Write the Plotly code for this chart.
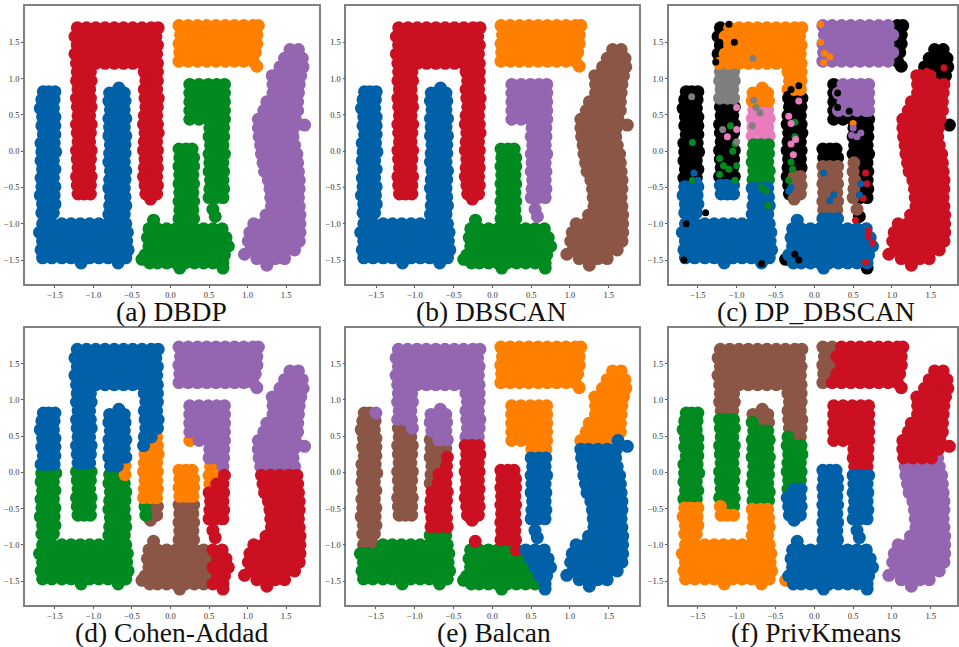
import plotly.graph_objects as go

# ---------- point rows: (y, [x, ...]) ----------
U_LEFT = [(.82,[-1.65,-1.58,-1.5]),(.71,[-1.67,-1.58,-1.51]),(.59,[-1.69,-1.6,-1.52]),(.47,[-1.66,-1.59,-1.5]),(.35,[-1.67,-1.58,-1.5]),
 (.23,[-1.65,-1.57,-1.5]),(.11,[-1.68,-1.6,-1.51]),(-.01,[-1.67,-1.59,-1.49]),(-.13,[-1.68,-1.6,-1.52]),(-.25,[-1.66,-1.58,-1.5]),
 (-.37,[-1.68,-1.6,-1.52]),(-.49,[-1.67,-1.59,-1.5]),(-.61,[-1.69,-1.6,-1.51]),(-.73,[-1.66,-1.58,-1.5]),(-.85,[-1.67,-1.6,-1.52])]
U_RIGHT = [(.87,[-.67]),(.8,[-.79,-.7,-.6]),(.69,[-.8,-.7,-.59]),(.57,[-.78,-.69,-.6]),(.45,[-.8,-.69,-.58]),(.33,[-.79,-.7,-.6]),
 (.21,[-.8,-.7,-.58]),(.09,[-.78,-.69,-.59]),(-.03,[-.79,-.69,-.59]),(-.15,[-.8,-.7,-.6]),(-.27,[-.78,-.7,-.58]),(-.39,[-.79,-.69,-.59]),
 (-.51,[-.8,-.69,-.6]),(-.63,[-.78,-.69,-.59]),(-.75,[-.79,-.7,-.58]),(-.87,[-.8,-.7,-.6])]
U_BASE = [(-1.0,[-1.66,-1.54,-1.41,-1.29,-1.17,-1.05,-.93,-.81,-.69,-.58]),
 (-1.12,[-1.7,-1.6,-1.48,-1.36,-1.23,-1.11,-.99,-.87,-.75,-.63,-.56]),
 (-1.24,[-1.66,-1.54,-1.42,-1.3,-1.18,-1.06,-.94,-.81,-.69,-.57]),
 (-1.36,[-1.68,-1.6,-1.48,-1.35,-1.24,-1.12,-1.0,-.88,-.75,-.63,-.55]),
 (-1.47,[-1.66,-1.54,-1.41,-1.29,-1.16,-1.05,-.93,-.81,-.69,-.58]),
 (-1.54,[-1.16,-.68])]
INV_TOP = [(1.7,[-1.21,-1.09,-.97,-.85,-.73,-.61,-.49,-.37,-.25,-.16]),
 (1.58,[-1.24,-1.15,-1.03,-.91,-.79,-.67,-.55,-.43,-.31,-.19]),
 (1.46,[-1.21,-1.09,-.97,-.85,-.73,-.61,-.49,-.37,-.25,-.17]),
 (1.34,[-1.24,-1.15,-1.03,-.91,-.79,-.67,-.55,-.43,-.31,-.18]),
 (1.21,[-1.22,-1.09,-.97,-.85,-.73,-.61,-.49,-.37,-.25,-.17])]
INV_L = [(1.09,[-1.21,-1.12,-1.04]),(.97,[-1.22,-1.13,-1.03]),(.85,[-1.2,-1.12,-1.05]),(.73,[-1.22,-1.12,-1.04]),(.61,[-1.21,-1.13,-1.03]),
 (.49,[-1.2,-1.13,-1.05]),(.37,[-1.22,-1.12,-1.03]),(.25,[-1.21,-1.12,-1.04]),(.13,[-1.2,-1.13,-1.05]),(.01,[-1.22,-1.13,-1.03]),
 (-.11,[-1.21,-1.12,-1.04]),(-.23,[-1.2,-1.12,-1.05]),(-.35,[-1.22,-1.13,-1.03]),(-.47,[-1.21,-1.13,-1.04]),(-.59,[-1.2,-1.12,-1.04])]
INV_R = [(1.09,[-.34,-.25,-.17]),(.97,[-.32,-.25,-.17]),(.85,[-.34,-.26,-.18]),(.73,[-.33,-.26,-.16]),(.61,[-.32,-.25,-.17]),
 (.49,[-.34,-.25,-.18]),(.37,[-.35,-.26,-.17]),(.25,[-.33,-.26,-.16]),(.13,[-.34,-.25,-.18]),(.01,[-.35,-.25,-.17]),
 (-.11,[-.33,-.26,-.18]),(-.23,[-.34,-.26,-.17]),(-.35,[-.35,-.26,-.18]),(-.47,[-.33,-.25,-.17]),(-.59,[-.32,-.25,-.18]),(-.66,[-.26])]
RECT = [(1.73,[.11,.23,.35,.47,.59,.71,.83,.95,1.07,1.14]),
 (1.6,[.13,.17,.29,.41,.53,.65,.77,.89,1.01,1.12]),
 (1.48,[.11,.23,.35,.47,.59,.71,.83,.95,1.07,1.12]),
 (1.36,[.12,.17,.29,.41,.53,.65,.77,.89,1.01,1.1]),
 (1.24,[.11,.23,.35,.47,.59,.71,.83,.95,1.07]),(1.17,[1.12])]
J_TOP = [(.92,[.25,.37,.49,.6,.7]),(.8,[.25,.31,.43,.55,.66,.7]),(.68,[.25,.37,.49,.6,.7]),(.56,[.25,.31,.43,.55,.66,.7]),(.44,[.25,.37,.49,.6,.7])]
J_COL = [(.32,[.51,.6,.69]),(.2,[.5,.6,.69]),(.08,[.52,.6,.68]),(-.04,[.5,.6,.7]),(-.16,[.51,.6,.68]),(-.28,[.5,.59,.69]),
 (-.4,[.52,.6,.68]),(-.52,[.51,.6,.69]),(-.64,[.5,.59,.68]),(-.8,[.55]),(-.9,[.58])]
STEM = [(.03,[.11,.2,.28]),(-.09,[.12,.21,.3]),(-.21,[.11,.2,.3]),(-.33,[.12,.2,.29]),(-.45,[.11,.2,.3]),(-.57,[.12,.21,.29]),
 (-.69,[.11,.21,.3]),(-.81,[.12,.2,.29]),(-.93,[.11,.2,.3])]
BASE = [(-.95,[-.22]),(-1.07,[-.28,-.17,-.05,.07,.19,.31,.43,.55,.67]),
 (-1.19,[-.3,-.23,-.11,.01,.13,.25,.37,.49,.61,.72]),
 (-1.31,[-.28,-.17,-.05,.07,.19,.31,.43,.55,.67,.75]),
 (-1.43,[-.33,-.23,-.11,.01,.13,.25,.37,.49,.61,.7]),
 (-1.49,[-.37]),(-1.54,[-.27,-.17,-.05,.07,.19,.31,.43,.55,.68]),(-1.61,[.12,.68])]
BLOB = [(1.4,[1.55,1.66]),(1.28,[1.48,1.6,1.71]),(1.16,[1.42,1.54,1.66,1.72]),(1.04,[1.32,1.37,1.49,1.6,1.69]),
 (.92,[1.33,1.45,1.57,1.67]),(.8,[1.33,1.45,1.56,1.66]),(.68,[1.25,1.37,1.49,1.6,1.65]),(.56,[1.21,1.33,1.45,1.57,1.65]),
 (.44,[1.14,1.26,1.38,1.5,1.62]),(.36,[1.74]),(.32,[1.14,1.24,1.36,1.48,1.6]),(.2,[1.15,1.27,1.39,1.51,1.59]),
 (.08,[1.17,1.28,1.4,1.52,1.61]),(-.04,[1.18,1.3,1.42,1.54,1.64]),(-.16,[1.2,1.31,1.43,1.55,1.65]),
 (-.28,[1.22,1.33,1.45,1.57,1.66]),(-.4,[1.27,1.39,1.51,1.63,1.67]),(-.52,[1.29,1.4,1.52,1.64,1.67]),
 (-.64,[1.3,1.42,1.54,1.66]),(-.76,[1.31,1.43,1.55,1.67]),(-.88,[1.24,1.33,1.45,1.57,1.68]),
 (-1.0,[1.08,1.2,1.32,1.44,1.56,1.68]),(-1.12,[1.03,1.15,1.27,1.39,1.51,1.63,1.68]),
 (-1.24,[1.01,1.09,1.21,1.33,1.45,1.57,1.67]),(-1.36,[1.04,1.15,1.27,1.39,1.51,1.61]),
 (-1.42,[.96]),(-1.48,[1.12,1.24,1.36,1.48]),(-1.57,[1.25])]

SHAPES = {"U_LEFT":U_LEFT,"U_RIGHT":U_RIGHT,"U_BASE":U_BASE,"INV_TOP":INV_TOP,"INV_L":INV_L,"INV_R":INV_R,
          "RECT":RECT,"J_TOP":J_TOP,"J_COL":J_COL,"STEM":STEM,"BASE":BASE,"BLOB":BLOB}

# ---------- colours ----------
BLUE="#0060a8"; ORANGE="#ff7f00"; GREEN="#008a20"; RED="#cb1022"; PURPLE="#9465b0"; BROWN="#8c5646"
PINK="#e87cbc"; GRAY="#7f7f7f"; BLACK="#000000"

# ---------- clusters: by shape (a, b) ----------
A_COLORS = {"U_LEFT":BLUE,"U_RIGHT":BLUE,"U_BASE":BLUE,"INV_TOP":RED,"INV_L":RED,"INV_R":RED,"RECT":ORANGE,
            "J_TOP":GREEN,"J_COL":GREEN,"STEM":GREEN,"BASE":GREEN,"BLOB":PURPLE}
B_COLORS = {"U_LEFT":BLUE,"U_RIGHT":BLUE,"U_BASE":BLUE,"INV_TOP":RED,"INV_L":RED,"INV_R":RED,"RECT":ORANGE,
            "J_TOP":PURPLE,"J_COL":PURPLE,"STEM":GREEN,"BASE":GREEN,"BLOB":BROWN}

# ---------- clusters: regions, first match wins, then a default ----------
C_RULES = [
 (BLACK,[(1.7,.3),(1.8,.3),(1.8,.42),(1.7,.42)]),
 (BLACK,[(-.42,-1.45),(-.33,-1.45),(-.33,-1.53),(-.42,-1.53)]),
 (BLACK,[(.62,-1.57),(.74,-1.57),(.74,-1.66),(.62,-1.66)]),
 (RED,[(.9,-2),(2,-2),(2,.95),(1.65,1.0),(1.3,1.1),(.9,1.0)]),
 (PURPLE,[(.1,2),(1.05,2),(1.05,1.28),(.95,1.12),(.1,1.12)]),
 (PURPLE,[(.28,1.0),(.8,1.0),(.8,.45),(.28,.5)]),
 (ORANGE,[(-1.18,2),(0,2),(0,.75),(-.45,.75),(-.45,1.12),(-1.0,1.12),(-1.3,1.1),(-1.18,1.3)]),
 (ORANGE,[(-.95,.95),(-.45,.95),(-.45,.68),(-.95,.68)]),
 (GRAY,[(-1.3,1.12),(-.95,1.12),(-.95,.65),(-1.3,.65)]),
 (PINK,[(-.95,.68),(-.45,.68),(-.45,.1),(-.95,.1)]),
 (GREEN,[(-.95,.1),(-.45,.1),(-.45,-.42),(-.95,-.42)]),
 (BLUE,[(-2,-.42),(-.45,-.42),(-.45,-2),(-2,-2)]),
 (BLUE,[(-.45,-2),(.85,-2),(.85,-.95),(.4,-.95),(.4,-.88),(-.45,-.95)]),
 (BROWN,[(0,-.2),(.4,-.2),(.4,-.88),(0,-.88)]),
 (BROWN,[(.45,-.12),(.59,-.12),(.59,-.88),(.45,-.88)]),
 (BROWN,[(-.29,-.33),(0,-.33),(0,-.8),(-.29,-.8)]),
]
C_DEFAULT = BLACK
C_EXTRA_GREEN = [(-1.57,.12),(-1.57,-.4),(-1.22,-.1),(-1.17,-.2),(-1.05,0),(-1.0,-.2),(-1.02,-.4),(-1.22,-.32),(-1.1,-.25),
 (-1.02,.1),(-1.08,.35),(-.3,-.15),(-.33,-.4),(-.28,-.25),(-.25,.4),(-.25,.2),(-.68,-.5),(-.62,-.55),(-.6,-.75)]
C_EXTRA_PINK = [(-1.12,.2),(-1.0,.3),(-1.0,.6),(-.33,.48),(-.3,.1),(-.3,.38),(-.27,-.05),(-.2,.69),(-.24,.16)]
C_EXTRA_GRAY = [(-1.58,.75),(-1.18,.3),(-1.0,.13),(-.7,.53),(-.8,.35),(-.78,.7),(-.75,.6),(-.79,1.28)]
C_EXTRA_BLACK = [(-1.23,1.7),(-1.1,1.75),(-1.22,1.5),(-1.03,1.5),(-1.27,1.23),(-.3,.85),(-.2,.9),(-.35,.78),(.3,.8),(.3,.6),
 (.45,.55),(-.25,-1.42),(-.2,-1.5),(-.68,-1.55),(-1.68,-1.5),(-1.65,-1.0),(-1.4,-.85)]
C_EXTRA_RED = [(.66,-.3),(.68,-.45),(.63,-.65),(.53,-.95),(.7,-1.1),(.7,-1.18),(.75,-1.27),(.66,-1.53),(1.45,1.1),(1.67,1.15)]
C_EXTRA_BLUE = [(-.33,-.55),(-.3,-.5),(.58,-.6),(.6,-.45),(-1.55,-.3),(-1.5,-.4),(-1.6,-.6),(.25,-.6),(.2,-.68),(.12,-.3)]
C_EXTRA_ORANGE = [(.08,1.75),(.08,1.5),(.13,1.35),(.12,1.22),(.2,1.3),(.5,.38)]
C_EXTRA_PURPLE = [(.48,.22),(.55,.2),(.6,.25),(.5,.32)]
C_EXTRA = [(GREEN,C_EXTRA_GREEN),(PINK,C_EXTRA_PINK),(GRAY,C_EXTRA_GRAY),(BLACK,C_EXTRA_BLACK),(RED,C_EXTRA_RED),
           (BLUE,C_EXTRA_BLUE),(ORANGE,C_EXTRA_ORANGE),(PURPLE,C_EXTRA_PURPLE)]

D_RULES = [
 (BROWN,[(-.31,-.42),(.5,-.42),(.5,-2),(-.5,-2),(-.5,-.9),(-.31,-.7)]),
 (GREEN,[(-2,.05),(-.72,.05),(-.5,-.15),(-.5,-.42),(-.31,-.42),(-.31,-.7),(-.5,-.9),(-.5,-2),(-2,-2)]),
 (BLUE,[(-2,.05),(-.72,.05),(-.05,.62),(-.05,2),(-2,2)]),
 (PURPLE,[(0,2),(2,2),(2,.02),(.68,.02),(.1,.6),(0,.9)]),
 (RED,[(.68,.02),(2,.02),(2,-2),(.55,-2),(.55,-.95),(.38,-.6),(.38,-.35)]),
]
D_DEFAULT = ORANGE

E_RULES = [
 (PURPLE,[(-1.55,.76),(-1.45,.76),(-1.45,.9),(-1.55,.9)]),
 (ORANGE,[(0,2),(2,2),(2,.48),(1.0,.38),(.77,.31),(0,.31)]),
 (BLUE,[(.38,.31),(.77,.31),(1.0,.38),(2,.48),(2,-2),(.75,-2),(.6,-1.55),(.36,-1.05)]),
 (PURPLE,[(-2,2),(0,2),(0,.42),(-.35,.42),(-.53,.35),(-.83,.47),(-1.28,.69),(-1.6,.92),(-2,1.0)]),
 (BROWN,[(-2,1.0),(-1.6,.92),(-1.28,.69),(-.83,.47),(-.53,.35),(-.83,-.32),(-.9,-.8),(-1.45,-1),(-2,-1.2)]),
 (GREEN,[(-2,-1.2),(-1.45,-1),(-.88,-.75),(-.55,-.87),(-.45,-.95),(.05,-1.03),(.37,-1.1),(.6,-1.55),(.75,-2),(-2,-2)]),
]
E_DEFAULT = RED

F_RULES = [
 (ORANGE,[(-.42,-1.45),(-.33,-1.45),(-.33,-1.53),(-.42,-1.53)]),
 (ORANGE,[(-2,-.4),(-1.25,-.42),(-.98,-.59),(-.85,-.45),(-.5,-.5),(-.5,-2),(-2,-2)]),
 (BROWN,[(-2,2),(.36,2),(.16,1.05),(0,1.0),(0,.46),(-.12,.47),(-.38,.51),(-.5,.63),(-.85,.72),(-.98,.79),(-1.28,.86),(-2,1.0)]),
 (RED,[(.36,2),(2,2),(2,.27),(1.08,.12),(.8,.03),(.4,.03),(.4,.25),(.1,.25),(.1,.95),(.16,1.05)]),
 (PURPLE,[(1.08,.12),(2,.27),(2,-2),(.9,-2),(.9,.1)]),
 (BLUE,[(-.45,-.35),(-.12,-.11),(0,-.05),(0,.2),(.4,.2),(.4,.03),(.85,.03),(.9,-2),(-.5,-2)]),
]
F_DEFAULT = GREEN

CAPTIONS = ["(a) DBDP","(b) DBSCAN","(c) DP_DBSCAN","(d) Cohen-Addad","(e) Balcan","(f) PrivKmeans"]
TICKS = [-1.5,-1.0,-0.5,0.0,0.5,1.0,1.5]
W, H = 959, 647
# left, right, top, bottom (px); x range, y range; caption centre (px)
PANELS = [
 (25,320,6,284,(-1.889,1.931),(-1.83,2.0),172,311),
 (347,640,6,284,(-1.886,1.886),(-1.83,2.0),493,311),
 (670,959,6,284,(-1.877,1.838),(-1.83,2.0),818,311),
 (25,320,328,605,(-1.889,1.931),(-1.83,1.993),172,632),
 (347,640,328,605,(-1.882,1.886),(-1.83,1.993),495,632),
 (670,959,328,605,(-1.877,1.838),(-1.83,1.993),818,632),
]

def inside(px, py, poly):
    hit = False
    for i in range(len(poly)):
        x1, y1 = poly[i]
        x2, y2 = poly[(i + 1) % len(poly)]
        if (y1 > py) != (y2 > py) and px < x1 + (py - y1) * (x2 - x1) / (y2 - y1):
            hit = not hit
    return hit

def by_shape(colors):
    out = {}
    for name, rows in SHAPES.items():
        for y, xs in rows:
            for x in xs:
                out.setdefault(colors[name], []).append((x, y))
    return out

def by_rules(rules, default):
    out = {}
    for rows in SHAPES.values():
        for y, xs in rows:
            for x in xs:
                c = default
                for color, poly in rules:
                    if inside(x, y, poly):
                        c = color
                        break
                out.setdefault(c, []).append((x, y))
    return out

GROUPS = [by_shape(A_COLORS), by_shape(B_COLORS), by_rules(C_RULES, C_DEFAULT),
          by_rules(D_RULES, D_DEFAULT), by_rules(E_RULES, E_DEFAULT), by_rules(F_RULES, F_DEFAULT)]

fig = go.Figure()
layout = dict(width=W, height=H, margin=dict(l=0, r=0, t=0, b=0), paper_bgcolor="white", plot_bgcolor="white",
              showlegend=False, autosize=False)
ann = []
ORDER = [BLACK, GRAY, BROWN, PINK, GREEN, ORANGE, PURPLE, RED, BLUE]
for i, (l, r, t, b, xr, yr, cx, cy) in enumerate(PANELS):
    n = i + 1
    sx = "" if n == 1 else str(n)
    axis = dict(tickvals=TICKS, ticktext=[f"{v:.1f}".replace("-", "\u2212") for v in TICKS], showgrid=False, zeroline=False,
                showline=True, mirror=True, linecolor="#808080", linewidth=1.5, ticks="outside", ticklen=2, tickwidth=1,
                tickcolor="#555555", tickfont=dict(family="Liberation Serif", size=8.5, color="#333333"))
    layout["xaxis" + sx] = dict(domain=[l / W, r / W], range=list(xr), anchor="y" + sx, **axis)
    layout["yaxis" + sx] = dict(domain=[1 - b / H, 1 - t / H], range=list(yr), anchor="x" + sx, **axis)
    for color in ORDER:
        pts = GROUPS[i].get(color)
        if pts:
            fig.add_trace(go.Scatter(x=[p[0] for p in pts], y=[p[1] for p in pts], mode="markers", xaxis="x" + sx, yaxis="y" + sx,
                                     marker=dict(color=color, size=13, line=dict(width=0)), hoverinfo="skip"))
    if i == 2:
        for color, pts in C_EXTRA:
            fig.add_trace(go.Scatter(x=[p[0] for p in pts], y=[p[1] for p in pts], mode="markers", xaxis="x" + sx, yaxis="y" + sx,
                                     marker=dict(color=color, size=7, line=dict(width=0)), hoverinfo="skip"))
    ann.append(dict(text=CAPTIONS[i], xref="paper", yref="paper", x=cx / W, y=1 - cy / H, xanchor="center", yanchor="middle",
                    showarrow=False, font=dict(family="Liberation Serif", size=27.5, color="#111111")))
layout["annotations"] = ann
fig.update_layout(**layout)
fig.write_html("out.html", post_script="document.body.style.margin='0';document.body.style.overflow='hidden';",
               config={"displayModeBar": False})
